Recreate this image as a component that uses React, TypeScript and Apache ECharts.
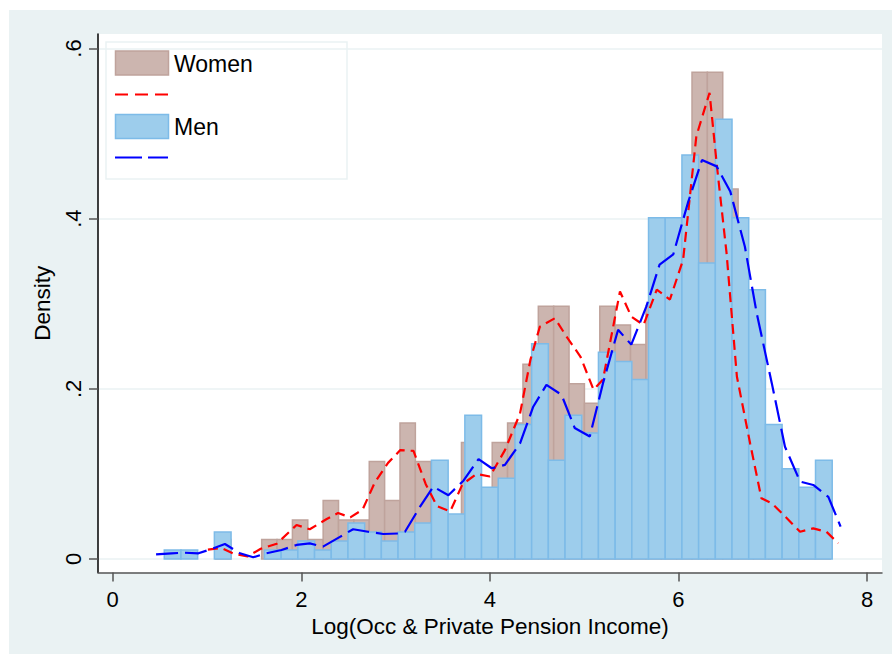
import React, { useEffect, useRef } from "react";
import * as echarts from "echarts";

// ---- Data ----
const xTicks = [0, 2, 4, 6, 8];
const yTicks = [0, 0.2, 0.4, 0.6];
const yTickLabels = ["0", ".2", ".4", ".6"];

const womenBinStart = 1.091;
const womenBinWidth = 0.163;
const womenDensity = [
  0.0229, 0, 0, 0.0229, 0.0229, 0.0458, 0.0229, 0.0687, 0.0458, 0.0458,
  0.1145, 0.0687, 0.16, 0.1145, 0.0687, 0.0458, 0.137, 0.0687, 0.137, 0.16,
  0.229, 0.297, 0.297, 0.206, 0.183, 0.297, 0.275, 0.252, 0.297, 0.275,
  0.366, 0.572, 0.572, 0.435, 0.206, 0.0687, 0.0458, 0.0458, 0.0229, 0.0458,
];

const menBinStart = 0.547;
const menBinWidth = 0.1771;
const menDensity = [
  0.0106, 0.0106, 0, 0.0317, 0, 0, 0.0106, 0.0106, 0.0211, 0.0106,
  0.0211, 0.0422, 0.0317, 0.0211, 0.0317, 0.0422, 0.116, 0.0528, 0.169, 0.0844,
  0.095, 0.158, 0.253, 0.116, 0.169, 0.148, 0.243, 0.232, 0.211, 0.401,
  0.401, 0.475, 0.348, 0.517, 0.401, 0.3165, 0.158, 0.106, 0.0844, 0.116,
];

const womenKde: [number, number][] = [
  [1.01, 0.011], [1.15, 0.013], [1.29, 0.006], [1.43, 0.003], [1.57, 0.012],
  [1.74, 0.018], [1.95, 0.04], [2.09, 0.035], [2.27, 0.047], [2.39, 0.054],
  [2.52, 0.049], [2.65, 0.058], [2.78, 0.09], [2.92, 0.113], [3.05, 0.128],
  [3.19, 0.127], [3.32, 0.088], [3.44, 0.062], [3.58, 0.056], [3.71, 0.088],
  [3.86, 0.1], [4.0, 0.097], [4.16, 0.128], [4.32, 0.171], [4.43, 0.234],
  [4.53, 0.273], [4.69, 0.283], [4.81, 0.262], [4.96, 0.238], [5.1, 0.199],
  [5.2, 0.211], [5.38, 0.3145], [5.5, 0.285], [5.63, 0.275], [5.77, 0.3165],
  [5.91, 0.305], [6.05, 0.352], [6.19, 0.497], [6.33, 0.548], [6.41, 0.46],
  [6.51, 0.36], [6.62, 0.2145], [6.76, 0.136], [6.88, 0.0714], [6.99, 0.0655],
  [7.15, 0.048], [7.29, 0.032], [7.43, 0.036], [7.57, 0.032], [7.695, 0.0185],
];

const menKde: [number, number][] = [
  [0.46, 0.0055], [0.625, 0.0067], [0.75, 0.0074], [0.91, 0.0067], [1.07, 0.0126],
  [1.19, 0.0176], [1.35, 0.0067], [1.49, 0.002], [1.63, 0.0067], [1.79, 0.0106],
  [1.95, 0.0165], [2.09, 0.0184], [2.23, 0.0145], [2.41, 0.026], [2.55, 0.035],
  [2.71, 0.032], [2.87, 0.0294], [3.03, 0.03], [3.1, 0.032], [3.26, 0.0616],
  [3.4, 0.085], [3.56, 0.075], [3.72, 0.092], [3.88, 0.1175], [4.02, 0.1067],
  [4.16, 0.1106], [4.32, 0.136], [4.46, 0.179], [4.6, 0.2047], [4.76, 0.193],
  [4.9, 0.154], [5.06, 0.144], [5.2, 0.2067], [5.36, 0.2694], [5.5, 0.252],
  [5.66, 0.297], [5.8, 0.346], [5.945, 0.358], [6.1, 0.4185], [6.25, 0.469],
  [6.405, 0.4615], [6.55, 0.432], [6.705, 0.367], [6.83, 0.289], [6.99, 0.2067],
  [7.13, 0.132], [7.29, 0.091], [7.43, 0.087], [7.59, 0.073], [7.72, 0.038],
];

// ---- Styles ----
const FONT = "'Liberation Sans', Arial, Helvetica, sans-serif";
const WOMEN_FILL = "#CCB5AF";
const WOMEN_EDGE = "#BFA39C";
const MEN_FILL = "#9DCDEC";
const MEN_EDGE = "#7DBBE8";
const RED = "#FF0000";
const BLUE = "#0000FF";
const GRID_LINE = "#EAF2F3";

function histRenderer(binWidth: number, fill: string, stroke: string) {
  return (_params: any, api: any) => {
    const start = api.value(0);
    const h = api.value(1);
    if (!h) return { type: "group", children: [] };
    const p0 = api.coord([start, h]);
    const p1 = api.coord([start + binWidth, 0]);
    return {
      type: "rect",
      shape: { x: p0[0], y: p0[1], width: p1[0] - p0[0], height: p1[1] - p0[1] },
      style: { fill, stroke, lineWidth: 1.5 },
    };
  };
}

export default function App() {
  const ref = useRef<HTMLDivElement>(null);

  useEffect(() => {
    if (!ref.current) return;
    const chart = echarts.init(ref.current, undefined, { renderer: "svg" });
    const option: any = {
      animation: false,
      backgroundColor: "transparent",
      textStyle: { fontFamily: FONT },
      grid: {
        left: 98,
        right: 10,
        top: 34,
        bottom: 81.5,
        show: true,
        backgroundColor: "#FFFFFF",
        borderWidth: 0,
      },
      xAxis: {
        type: "value",
        min: -0.1559,
        max: 8.159,
        name: "Log(Occ & Private Pension Income)",
        nameLocation: "middle",
        nameGap: 38,
        nameTextStyle: { fontSize: 22.5, color: "#000", fontFamily: FONT },
        axisLine: { show: true, onZero: false, lineStyle: { color: "#555", width: 1.5 } },
        axisTick: { show: true, length: 9, customValues: xTicks, lineStyle: { color: "#555", width: 1.5 } },
        axisLabel: {
          customValues: xTicks,
          margin: 16,
          fontSize: 22,
          color: "#000",
          fontFamily: FONT,
          formatter: (v: number) => String(v),
        },
        splitLine: { show: false },
      },
      yAxis: {
        type: "value",
        min: -0.01587,
        max: 0.6171,
        name: "Density",
        nameLocation: "middle",
        nameGap: 42,
        nameTextStyle: { fontSize: 22.5, color: "#000", fontFamily: FONT },
        axisLine: { show: true, onZero: false, lineStyle: { color: "#000", width: 1.5 } },
        axisTick: { show: true, length: 9, customValues: yTicks, lineStyle: { color: "#555", width: 1.5 } },
        axisLabel: {
          customValues: yTicks,
          rotate: 90,
          margin: 14,
          fontSize: 22,
          color: "#000",
          fontFamily: FONT,
          formatter: (v: number) => {
            const idx = yTicks.findIndex((t) => Math.abs(t - v) < 1e-9);
            return idx >= 0 ? yTickLabels[idx] : "";
          },
        },
        splitLine: { show: true, lineStyle: { color: GRID_LINE, width: 1.5 } },
      },
      series: [
        {
          name: "Women",
          type: "custom",
          renderItem: histRenderer(womenBinWidth, WOMEN_FILL, WOMEN_EDGE),
          encode: { x: 0, y: 1 },
          data: womenDensity.map((h, i) => [womenBinStart + i * womenBinWidth, h]),
          z: 2,
          silent: true,
        },
        {
          name: "Men",
          type: "custom",
          renderItem: histRenderer(menBinWidth, MEN_FILL, MEN_EDGE),
          encode: { x: 0, y: 1 },
          data: menDensity.map((h, i) => [menBinStart + i * menBinWidth, h]),
          z: 3,
          silent: true,
        },
        {
          name: "Women density",
          type: "line",
          data: womenKde,
          showSymbol: false,
          symbol: "none",
          lineStyle: { color: RED, width: 2.2, type: [10, 6] },
          z: 4,
          silent: true,
        },
        {
          name: "Men density",
          type: "line",
          data: menKde,
          showSymbol: false,
          symbol: "none",
          lineStyle: { color: BLUE, width: 2.2, type: [22, 7] },
          z: 5,
          silent: true,
        },
      ],
      graphic: [
        {
          type: "group",
          z: 100,
          children: [
            {
              type: "rect",
              shape: { x: 106, y: 42, width: 241, height: 137 },
              style: { fill: "#FFFFFF", stroke: GRID_LINE, lineWidth: 1.5 },
            },
            {
              type: "rect",
              shape: { x: 115.5, y: 51, width: 53, height: 24 },
              style: { fill: WOMEN_FILL, stroke: WOMEN_EDGE, lineWidth: 1.5 },
            },
            {
              type: "text",
              x: 174,
              y: 64,
              style: { text: "Women", fontSize: 23, fontFamily: FONT, fill: "#000", verticalAlign: "middle", align: "left" },
            },
            {
              type: "line",
              shape: { x1: 115, y1: 94.5, x2: 168, y2: 94.5 },
              style: { stroke: RED, lineWidth: 2.2, lineDash: [13, 7] },
            },
            {
              type: "rect",
              shape: { x: 115.5, y: 114.5, width: 53, height: 24 },
              style: { fill: MEN_FILL, stroke: MEN_EDGE, lineWidth: 1.5 },
            },
            {
              type: "text",
              x: 174,
              y: 127,
              style: { text: "Men", fontSize: 23, fontFamily: FONT, fill: "#000", verticalAlign: "middle", align: "left" },
            },
            {
              type: "line",
              shape: { x1: 115, y1: 157.5, x2: 168, y2: 157.5 },
              style: { stroke: BLUE, lineWidth: 2.2, lineDash: [27, 6] },
            },
          ],
        },
      ],
    };
    chart.setOption(option);
    return () => chart.dispose();
  }, []);

  return (
    <div style={{ position: "fixed", left: 0, top: 0, width: 892, height: 654, background: "#FFFFFF" }}>
      <div style={{ position: "absolute", left: 9, top: 10, right: 0, bottom: 0, background: "#EAF2F3" }} />
      <div ref={ref} style={{ position: "absolute", left: 0, top: 0, width: 892, height: 654 }} />
    </div>
  );
}
